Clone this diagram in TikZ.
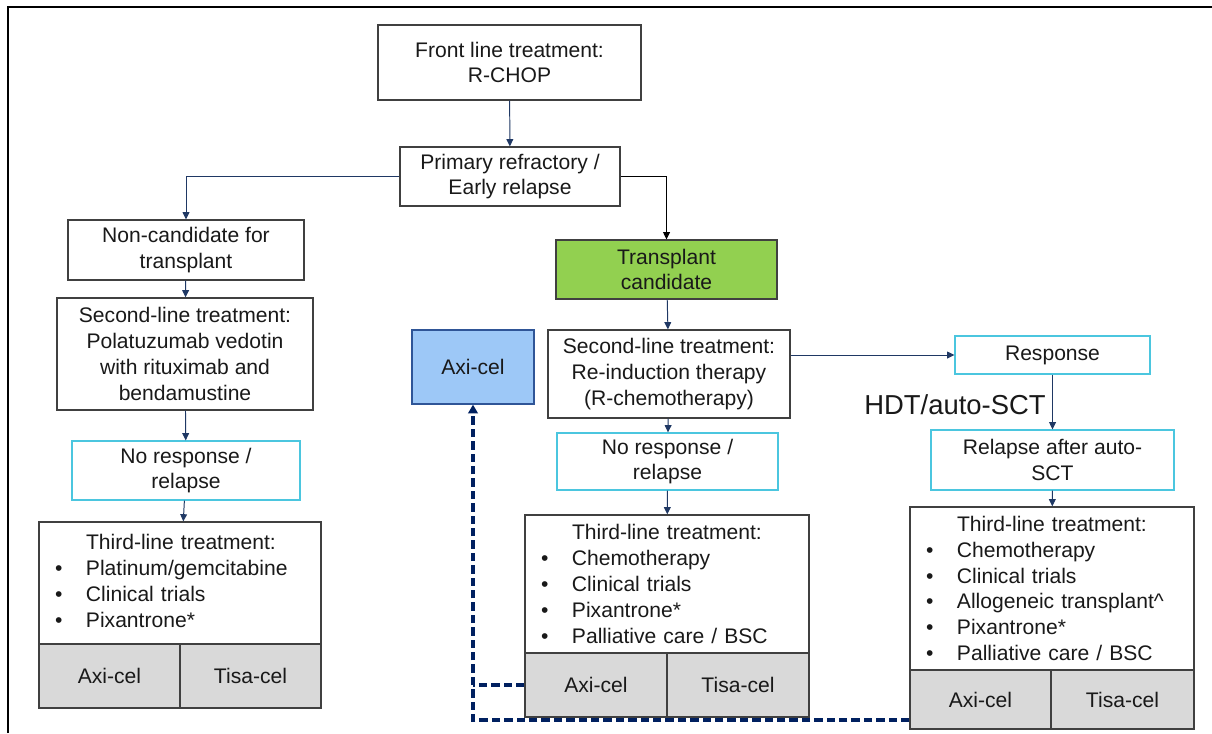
\documentclass[tikz,border=0pt]{standalone}
\usepackage{fontspec}
\setmainfont{Liberation Sans}
\usetikzlibrary{arrows.meta}

\definecolor{navy}{HTML}{1F3864}
\definecolor{dashnavy}{HTML}{002060}
\definecolor{cyanline}{HTML}{4BC6DF}
\definecolor{cellgrey}{HTML}{D9D9D9}
\definecolor{greenbox}{HTML}{92D050}
\definecolor{axiblue}{HTML}{9DC8F7}
\definecolor{axiline}{HTML}{2F5597}
\definecolor{boxline}{HTML}{404040}

\newcommand{\boxfont}{\fontsize{15}{18.4}\selectfont}
\newcommand{\itm}{\makebox[7.75mm][l]{\textbullet}}
\newcommand{\gap}{\hspace*{7.75mm}}

\begin{document}
\begin{tikzpicture}[x=0.25mm,y=-0.25mm,
  box/.style 2 args={draw=boxline,line width=0.9pt,inner sep=0pt,align=center,
    text=black!90,font=\boxfont,minimum width=#1*0.25mm,minimum height=#2*0.25mm},
  outcome/.style 2 args={box={#1}{#2},draw=cyanline},
  listbox/.style={align=left,inner xsep=4mm,text width=#1*0.25mm-8mm},
  cell/.style 2 args={box={#1}{#2},fill=cellgrey},
  flow/.style={draw=navy,line width=0.7pt,-{Triangle[length=1.8mm,width=1.7mm]}},
  dashline/.style={draw=dashnavy,line width=2.2pt,dash pattern=on 2.1mm off 1mm}]

\useasboundingbox (0,0) rectangle (1212,733);
\draw[line width=1.6pt] (8,733) -- (8,7) -- (1212,7);

\node[box={263}{75}] (front) at (509.5,62.5) {Front line treatment:\\R-CHOP};
\node[box={220}{59}] (prim) at (510,176.5) {Primary refractory /\\Early relapse};

\node[box={236}{60}] (noncand) at (186,250) {Non-candidate for\\transplant};
\node[box={256}{112}] (lsec) at (185,354) {Second-line treatment:\\Polatuzumab vedotin\\with rituximab and\\bendamustine};
\node[outcome={228}{59}] (lnr) at (186,470.5) {No response /\\relapse};
\node[box={282}{122},listbox=282] (lthird) at (180,583)
  {\gap Third-line treatment:\\\itm Platinum/gemcitabine\\\itm Clinical trials\\\itm Pixantrone*\vspace*{1mm}};
\node[cell={141}{64}] (laxi) at (109.5,676) {Axi-cel};
\node[cell={141}{64}] (ltisa) at (250.5,676) {Tisa-cel};

\node[box={221}{59},fill=greenbox] (transp) at (666.5,269.5) {Transplant\\candidate};
\node[box={122}{74},fill=axiblue,draw=axiline] (axiblue) at (473,367) {Axi-cel};
\node[box={242}{88}] (csec) at (669,374) {Second-line treatment:\\Re-induction therapy\\(R-chemotherapy)};
\node[outcome={221}{57}] (cnr) at (667.5,461.5) {No response /\\relapse};
\node[box={284}{138},listbox=284] (cthird) at (667,584)
  {\gap Third-line treatment:\\\itm Chemotherapy\\\itm Clinical trials\\\itm Pixantrone*\\\itm Palliative care / BSC};
\node[cell={142}{64}] (caxi) at (596,685) {Axi-cel};
\node[cell={142}{64}] (ctisa) at (738,685) {Tisa-cel};

\node[outcome={195}{38}] (resp) at (1052.5,355) {Response};
\node[font=\fontsize{19.5}{22}\selectfont,text=black!90] (hdt) at (955,405) {HDT/auto-SCT};
\node[outcome={243}{60}] (relapse) at (1052.5,460) {Relapse after auto-\\SCT};
\node[box={284}{163},listbox=284] (rthird) at (1052,588.5)
  {\gap Third-line treatment:\\\itm Chemotherapy\\\itm Clinical trials\\\itm Allogeneic transplant\^{}\\\itm Pixantrone*\\\itm Palliative care / BSC};
\node[cell={141}{59}] (raxi) at (980.5,699.5) {Axi-cel};
\node[cell={143}{59}] (rtisa) at (1122.5,699.5) {Tisa-cel};

\draw[flow] (front) -- (prim);
\draw[flow] (prim.west) -| (noncand.north);
\draw[flow,draw=black] (prim.east) -| (transp.north);

\draw[flow] (noncand) -- (lsec);
\draw[flow] (lsec) -- (lnr);
\draw[flow] (lnr) -- (lthird);

\draw[flow] (transp) -- (csec);
\draw[flow] (csec) -- (cnr);
\draw[flow] (cnr) -- (cthird);
\draw[flow] (csec.east |- resp.west) -- (resp.west);

\draw[flow] (resp) -- (relapse);
\draw[flow] (relapse) -- (rthird);

\coordinate (dashcorner) at (473,720);
\draw[dashline] (caxi.west) -- (caxi.west -| axiblue.south);
\draw[dashline,-{Triangle[length=2.2mm,width=2.4mm]}] (raxi.west |- dashcorner) -- (dashcorner) -- (axiblue.south);

\end{tikzpicture}
\end{document}
